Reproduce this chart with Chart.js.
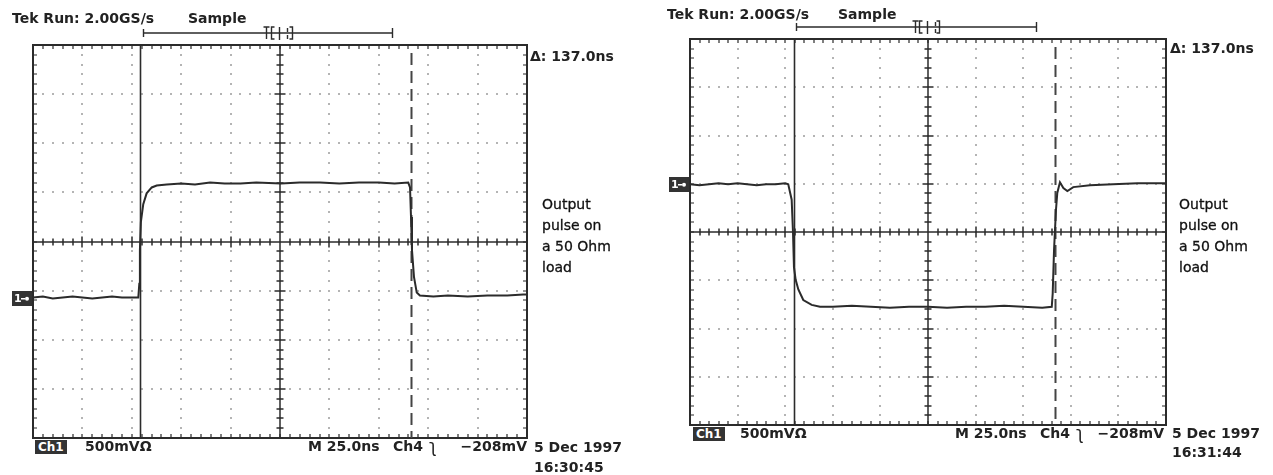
<!DOCTYPE html>
<html>
<head>
<meta charset="utf-8">
<title>Output pulse on a 50 Ohm load</title>
<script src="https://cdn.jsdelivr.net/npm/chart.js@4.4.0/dist/chart.umd.min.js"></script>
<style>
  body { margin: 0; background: #fff; }
  #page { position: relative; width: 1273px; height: 475px; overflow: hidden; font-family: 'DejaVu Sans', sans-serif; color: #222; }
  canvas { position: absolute; top: 0; }
  .lbl { position: absolute; white-space: nowrap; font-weight: bold; font-size: 14px; line-height: 16px; }
  .edge { position: absolute; white-space: nowrap; font-size: 17px; line-height: 16px; }
  .note { position: absolute; white-space: nowrap; font-size: 14px; line-height: 21px; color: #111; -webkit-text-stroke: 0.3px #111; }
  .chbox { position: absolute; background: #333; color: #fff; font-weight: bold; font-size: 12px; line-height: 14px; padding: 0 3px; }
</style>
</head>
<body>
<div id="page">
  <canvas id="riseScope" width="636" height="475" style="left:0"></canvas>
  <canvas id="fallScope" width="637" height="475" style="left:636px"></canvas>

  <div class="lbl" style="left:12px;top:10px">Tek Run: 2.00GS/s</div>
  <div class="lbl" style="left:188px;top:10px">Sample</div>
  <div class="lbl" style="left:530px;top:48px">&Delta;: 137.0ns</div>
  <div class="note" style="left:542px;top:194px">Output<br>pulse on<br>a 50 Ohm<br>load</div>
  <div class="chbox" style="left:35px;top:440px">Ch1</div>
  <div class="lbl" style="left:85px;top:438px">500mV&Omega;</div>
  <div class="lbl" style="left:308px;top:438px">M 25.0ns</div>
  <div class="lbl" style="left:393px;top:438px">Ch4</div>
  <div class="edge" style="left:429px;top:438px">&#x285;</div>
  <div class="lbl" style="right:746px;top:438px">&minus;208mV</div>
  <div class="lbl" style="left:534px;top:439px">5 Dec 1997</div>
  <div class="lbl" style="left:534px;top:459px">16:30:45</div>

  <div class="lbl" style="left:667px;top:6px">Tek Run: 2.00GS/s</div>
  <div class="lbl" style="left:838px;top:6px">Sample</div>
  <div class="lbl" style="left:1170px;top:40px">&Delta;: 137.0ns</div>
  <div class="note" style="left:1179px;top:194px">Output<br>pulse on<br>a 50 Ohm<br>load</div>
  <div class="chbox" style="left:693px;top:427px">Ch1</div>
  <div class="lbl" style="left:740px;top:425px">500mV&Omega;</div>
  <div class="lbl" style="left:955px;top:425px">M 25.0ns</div>
  <div class="lbl" style="left:1040px;top:425px">Ch4</div>
  <div class="edge" style="left:1076px;top:425px">&#x285;</div>
  <div class="lbl" style="right:109px;top:425px">&minus;208mV</div>
  <div class="lbl" style="left:1172px;top:425px">5 Dec 1997</div>
  <div class="lbl" style="left:1172px;top:444px">16:31:44</div>
</div>

<script>
const timeDiv = 25;     // ns per division
const voltDiv = 0.5;    // V per division
const deltaNs = 137.0;  // cursor spacing

// rising-edge capture (16:30:45)
const riseTime = [0, 5, 10, 15, 20, 25, 30, 35, 40, 45, 50, 53.3, 53.8, 54.1, 54.6, 55.8, 57.5, 60.1, 62.6, 67.7,
  75, 82, 89.6, 97, 105, 113, 125.5, 135, 145.2, 155, 165, 175, 183, 189.9, 190.8, 191.3, 191.8, 192.8, 194.2,
  195.8, 202.6, 210, 220, 230, 240, 248.1, 250];
const riseVolts = [0.00, 0.01, -0.01, 0.00, 0.01, 0.00, -0.01, 0.00, 0.01, 0.00, 0.00, 0.00, 0.14, 0.48, 0.77, 0.95,
  1.06, 1.12, 1.14, 1.15, 1.16, 1.15, 1.17, 1.16, 1.16, 1.17, 1.16, 1.17, 1.17, 1.16, 1.17, 1.17, 1.16, 1.17,
  1.12, 0.82, 0.48, 0.21, 0.05, 0.02, 0.01, 0.02, 0.01, 0.02, 0.02, 0.03, 0.03];
const riseCursor = 54.2;
const riseGround = -1.14;   // ground marker, divisions from screen centre

// falling-edge capture (16:31:44)
const fallTime = [0, 5, 10, 15, 20, 25, 30, 35, 40, 45, 50, 51.6, 53.4, 54.1, 54.6, 55.5, 56.9, 59.5, 63.9, 68.3,
  75, 85, 95, 105, 115, 125, 135, 145, 155, 165, 175, 185, 190.0, 190.5, 191.2, 192.2, 192.9, 194.3, 196.1,
  198.2, 201.3, 210.1, 222.2, 235, 250];
const fallVolts = [0.00, -0.01, 0.00, 0.01, 0.00, 0.01, 0.00, -0.01, 0.00, 0.00, 0.01, 0.00, -0.16, -0.50, -0.86,
  -0.99, -1.09, -1.20, -1.25, -1.27, -1.27, -1.26, -1.27, -1.28, -1.27, -1.27, -1.28, -1.27, -1.27, -1.26,
  -1.27, -1.28, -1.27, -1.13, -0.68, -0.27, -0.09, 0.02, -0.04, -0.07, -0.03, -0.01, 0.00, 0.01, 0.01];
const fallCursor = 54.6;
const fallGround = 0.99;

const ink = '#2b2b2b';

function tickRow(ctx, x, y, len, horizontal) {
  if (horizontal) { ctx.moveTo(x, y - len); ctx.lineTo(x, y + len); }
  else { ctx.moveTo(x - len, y); ctx.lineTo(x + len, y); }
}

const graticule = {
  id: 'graticule',
  beforeDatasetsDraw(chart) {
    const { ctx, chartArea: a, scales: { x, y } } = chart;
    const cursor = chart.options.plugins.graticule.cursor;
    const xAt = k => Math.round(x.getPixelForValue(k * timeDiv / 5));
    const yAt = k => Math.round(y.getPixelForValue(y.min + k * voltDiv / 5));
    ctx.save();

    // dotted major lines, one dot per minor division
    ctx.fillStyle = '#b4b4b4';
    for (let i = 1; i < 10; i++) {
      if (i === 5) continue;
      for (let k = 1; k < 40; k++) ctx.fillRect(xAt(i * 5) - 1, yAt(k) - 1, 2, 2);
    }
    for (let j = 1; j < 8; j++) {
      if (j === 4) continue;
      for (let k = 1; k < 50; k++) ctx.fillRect(xAt(k) - 1, yAt(j * 5) - 1, 2, 2);
    }

    // centre axes with minor ticks
    const cx = xAt(25), cy = yAt(20);
    ctx.strokeStyle = ink;
    ctx.lineWidth = 1.5;
    ctx.beginPath();
    ctx.moveTo(a.left, cy); ctx.lineTo(a.right, cy);
    ctx.moveTo(cx, a.top); ctx.lineTo(cx, a.bottom);
    for (let k = 1; k < 50; k++) tickRow(ctx, xAt(k), cy, k % 5 ? 3.5 : 5.5, true);
    for (let k = 1; k < 40; k++) tickRow(ctx, cx, yAt(k), k % 5 ? 3.5 : 5.5, false);
    ctx.stroke();

    // frame with inward ticks
    ctx.lineWidth = 2;
    ctx.strokeRect(a.left, a.top, a.right - a.left, a.bottom - a.top);
    ctx.lineWidth = 1.2;
    ctx.beginPath();
    for (let k = 1; k < 50; k++) {
      ctx.moveTo(xAt(k), a.top); ctx.lineTo(xAt(k), a.top + 4);
      ctx.moveTo(xAt(k), a.bottom); ctx.lineTo(xAt(k), a.bottom - 4);
    }
    for (let k = 1; k < 40; k++) {
      ctx.moveTo(a.left, yAt(k)); ctx.lineTo(a.left + 4, yAt(k));
      ctx.moveTo(a.right, yAt(k)); ctx.lineTo(a.right - 4, yAt(k));
    }
    ctx.stroke();

    // time cursors
    const c1 = Math.round(x.getPixelForValue(cursor)) + 0.5;
    const c2 = Math.round(x.getPixelForValue(cursor + deltaNs)) + 0.5;
    ctx.lineWidth = 1.6;
    ctx.beginPath(); ctx.moveTo(c1, a.top); ctx.lineTo(c1, a.bottom); ctx.stroke();
    ctx.strokeStyle = '#444';
    ctx.lineWidth = 2;
    ctx.setLineDash([12, 6]);
    ctx.beginPath(); ctx.moveTo(c2, a.top + 8); ctx.lineTo(c2, a.bottom); ctx.stroke();
    ctx.setLineDash([]);

    // record view bar above the screen
    const w = a.right - a.left;
    const by = a.top - 12;
    const bx = f => Math.round(a.left + f * w) + 0.5;
    ctx.strokeStyle = ink;
    ctx.lineWidth = 1.4;
    ctx.beginPath();
    ctx.moveTo(bx(0.223), by); ctx.lineTo(bx(0.726), by);
    ctx.moveTo(bx(0.223), by - 4); ctx.lineTo(bx(0.223), by + 4);
    ctx.moveTo(bx(0.726), by - 5); ctx.lineTo(bx(0.726), by + 5);
    ctx.moveTo(bx(0.472) - 3, by - 6); ctx.lineTo(bx(0.472) + 3, by - 6);
    ctx.moveTo(bx(0.472), by - 6); ctx.lineTo(bx(0.472), by + 6);
    ctx.moveTo(bx(0.482) + 3, by - 6); ctx.lineTo(bx(0.482), by - 6); ctx.lineTo(bx(0.482), by + 6); ctx.lineTo(bx(0.482) + 3, by + 6);
    ctx.moveTo(bx(0.497), by - 6); ctx.lineTo(bx(0.497), by + 7);
    ctx.moveTo(bx(0.514), by - 5); ctx.lineTo(bx(0.514), by - 1);
    ctx.moveTo(bx(0.514), by + 2); ctx.lineTo(bx(0.514), by + 6);
    ctx.moveTo(bx(0.524) - 3, by - 6); ctx.lineTo(bx(0.524), by - 6); ctx.lineTo(bx(0.524), by + 6); ctx.lineTo(bx(0.524) - 3, by + 6);
    ctx.stroke();

    // channel 1 ground marker
    const gy = Math.round(y.getPixelForValue(0));
    ctx.fillStyle = '#333';
    ctx.fillRect(a.left - 21, gy - 7, 20, 15);
    ctx.fillStyle = '#fff';
    ctx.font = 'bold 11px "DejaVu Sans"';
    ctx.textBaseline = 'middle';
    ctx.fillText('1', a.left - 19, gy + 1);
    ctx.fillRect(a.left - 12, gy, 4, 1.5);
    ctx.beginPath(); ctx.arc(a.left - 6, gy + 0.7, 2, 0, Math.PI * 2); ctx.fill();
    ctx.restore();
  }
};

function makeScope(id, times, volts, ground, cursor, padding) {
  const ctx = document.getElementById(id).getContext('2d');
  return new Chart(ctx, {
    type: 'line',
    data: {
      datasets: [{
        data: times.map((t, i) => ({ x: t, y: volts[i] })),
        borderColor: ink,
        borderWidth: 2,
        pointRadius: 0,
        tension: 0
      }]
    },
    options: {
      responsive: false,
      animation: false,
      layout: { padding },
      plugins: {
        legend: { display: false },
        tooltip: { enabled: false },
        graticule: { cursor }
      },
      scales: {
        x: { type: 'linear', display: false, min: 0, max: 10 * timeDiv },
        y: { type: 'linear', display: false, min: (-4 - ground) * voltDiv, max: (4 - ground) * voltDiv }
      }
    },
    plugins: [graticule]
  });
}

makeScope('riseScope', riseTime, riseVolts, riseGround, riseCursor, { left: 33, right: 109, top: 45, bottom: 37 });
makeScope('fallScope', fallTime, fallVolts, fallGround, fallCursor, { left: 54, right: 107, top: 39, bottom: 50 });
</script>
</body>
</html>
